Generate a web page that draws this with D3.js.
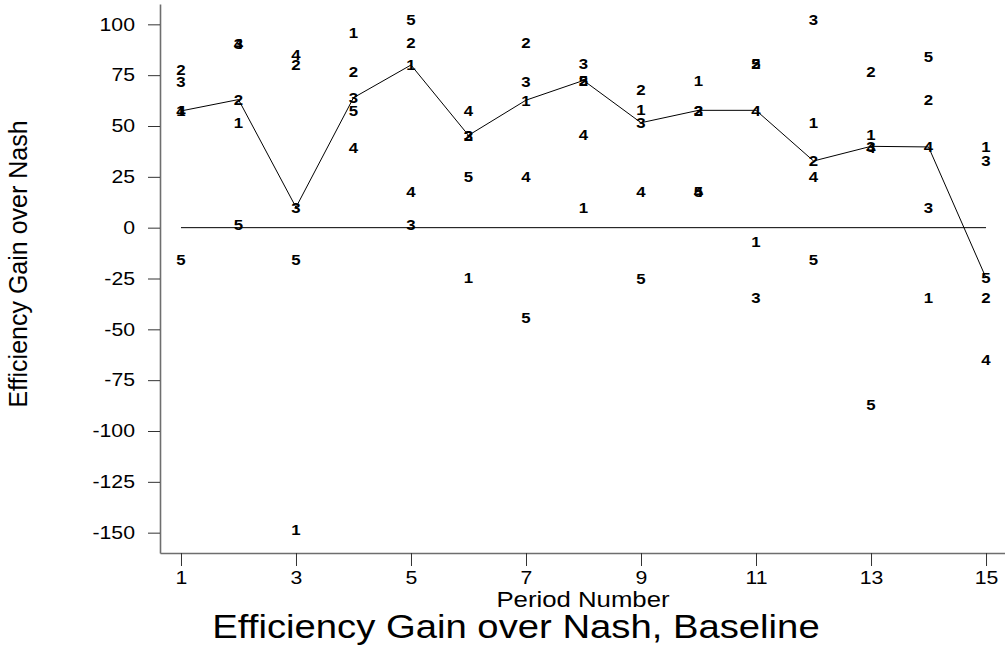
<!DOCTYPE html>
<html>
<head>
<meta charset="utf-8">
<script src="https://cdn.jsdelivr.net/npm/d3@7"></script>
<style>
  body { margin: 0; background: #fff; }
  text { font-family: "Liberation Sans", Arial, sans-serif; fill: #000; }
</style>
</head>
<body>
<svg id="chart"></svg>
<script>
'use strict';

// periods and efficiency gain per group
var periods = [1, 2, 3, 4, 5, 6, 7, 8, 9, 10, 11, 12, 13, 14, 15];
var group1 = [57.4, 51.5, -148.5, 95.7, 80, -24.5, 62.7, 10, 58.2, 72.4, -6.7, 51.6, 45.9, -34.5, 39.7];
var group2 = [77.5, 63, 80.2, 77, 90.8, 45.4, 90.8, 72.4, 68, 57.7, 80.5, 32.8, 77, 63.1, -34.5];
var group3 = [72, 90.7, 10, 63.9, 1.5, 45.4, 72, 80.7, 51.6, 57.7, -34.5, 102.3, 40, 10, 33.2];
var group4 = [57.4, 90.7, 85.2, 39.4, 17.6, 57.7, 25.1, 45.6, 17.8, 17.8, 57.7, 25.1, 39.4, 39.7, -64.9];
var group5 = [-15.7, 1.5, -15.8, 57.4, 102.3, 25, -44, 72.4, -25.1, 17.8, 80.5, -15.8, -86.9, 84.3, -24.7];
var groupNames = ['1', '2', '3', '4', '5'];

var yTicks = [-150, -125, -100, -75, -50, -25, 0, 25, 50, 75, 100];
var xTicks = [1, 3, 5, 7, 9, 11, 13, 15];

var groups = [group1, group2, group3, group4, group5];

var svgWidth = 1005,
    svgHeight = 649;

var svg = d3.select('#chart')
    .attr('width', svgWidth)
    .attr('height', svgHeight);

var x = d3.scaleLinear().domain([0.635, 15.33]).range([160, 1005]);
var y = d3.scaleLinear().domain([-160, 110]).range([553, 4]);

// stretch text horizontally, the original is a bit wide
function stretch(sel, k) {
    sel.each(function () {
        var w = this.getComputedTextLength();
        d3.select(this)
            .attr('textLength', w * k)
            .attr('lengthAdjust', 'spacingAndGlyphs');
    });
}

// plain hyphen for negatives, like the original
var plain = function (d) { return String(d) };

// y axis
var gy = svg.append('g')
    .attr('class', 'axis y')
    .attr('transform', 'translate(160,0)')
    .call(d3.axisLeft(y).tickValues(yTicks).tickFormat(plain)
        .tickSize(12).tickPadding(13).tickSizeOuter(0));

// x axis
var gx = svg.append('g')
    .attr('class', 'axis x')
    .attr('transform', 'translate(0,553)')
    .call(d3.axisBottom(x).tickValues(xTicks).tickFormat(plain)
        .tickSize(13).tickPadding(5).tickSizeOuter(0));

svg.selectAll('.axis .domain').attr('stroke', '#6e6e6e').attr('stroke-width', 1.6);
svg.selectAll('.axis .tick line').attr('stroke', '#333');
svg.selectAll('.axis .tick text')
    .attr('font-family', '"Liberation Sans", Arial, sans-serif')
    .attr('font-size', 18)
    .attr('fill', '#000');
stretch(svg.selectAll('.axis .tick text'), 1.18);

// zero line
svg.append('line')
    .attr('x1', x(1)).attr('x2', x(15))
    .attr('y1', y(0)).attr('y2', y(0))
    .attr('stroke', '#000')
    .attr('stroke-width', 1);

// median line over groups
var medians = periods.map(function (p, i) {
    return { period: p, value: d3.median(groups, function (g) { return g[i]; }) };
});

var line = d3.line()
    .x(function (d) { return x(d.period) })
    .y(function (d) { return y(d.value) });

svg.append('path')
    .datum(medians)
    .attr('fill', 'none')
    .attr('stroke', '#000')
    .attr('stroke-width', 1)
    .attr('d', line);

// group number labels
var points = [];
groups.forEach(function (g, gi) {
    g.forEach(function (v, i) {
        points.push({ period: periods[i], value: v, name: groupNames[gi] });
    });
});

var labels = svg.append('g')
    .selectAll('text')
    .data(points)
    .enter().append('text')
    .attr('x', function (d) { return x(d.period) })
    .attr('y', function (d) { return y(d.value) })
    .attr('dy', '0.36em')
    .attr('text-anchor', 'middle')
    .attr('font-size', 15)
    .attr('font-weight', 'bold')
    .text(function (d) { return d.name });
stretch(labels, 1.12);

// axis titles
svg.append('text')
    .attr('transform', 'translate(27,264) rotate(-90)')
    .attr('text-anchor', 'middle')
    .attr('font-size', 25)
    .text('Efficiency Gain over Nash');

var xt = svg.append('text')
    .attr('x', 583)
    .attr('y', 607)
    .attr('text-anchor', 'middle')
    .attr('font-size', 22)
    .text('Period Number');
stretch(xt, 1.17);

var title = svg.append('text')
    .attr('x', 516)
    .attr('y', 638)
    .attr('text-anchor', 'middle')
    .attr('font-size', 34)
    .text('Efficiency Gain over Nash, Baseline');
stretch(title, 1.125);
</script>
</body>
</html>
